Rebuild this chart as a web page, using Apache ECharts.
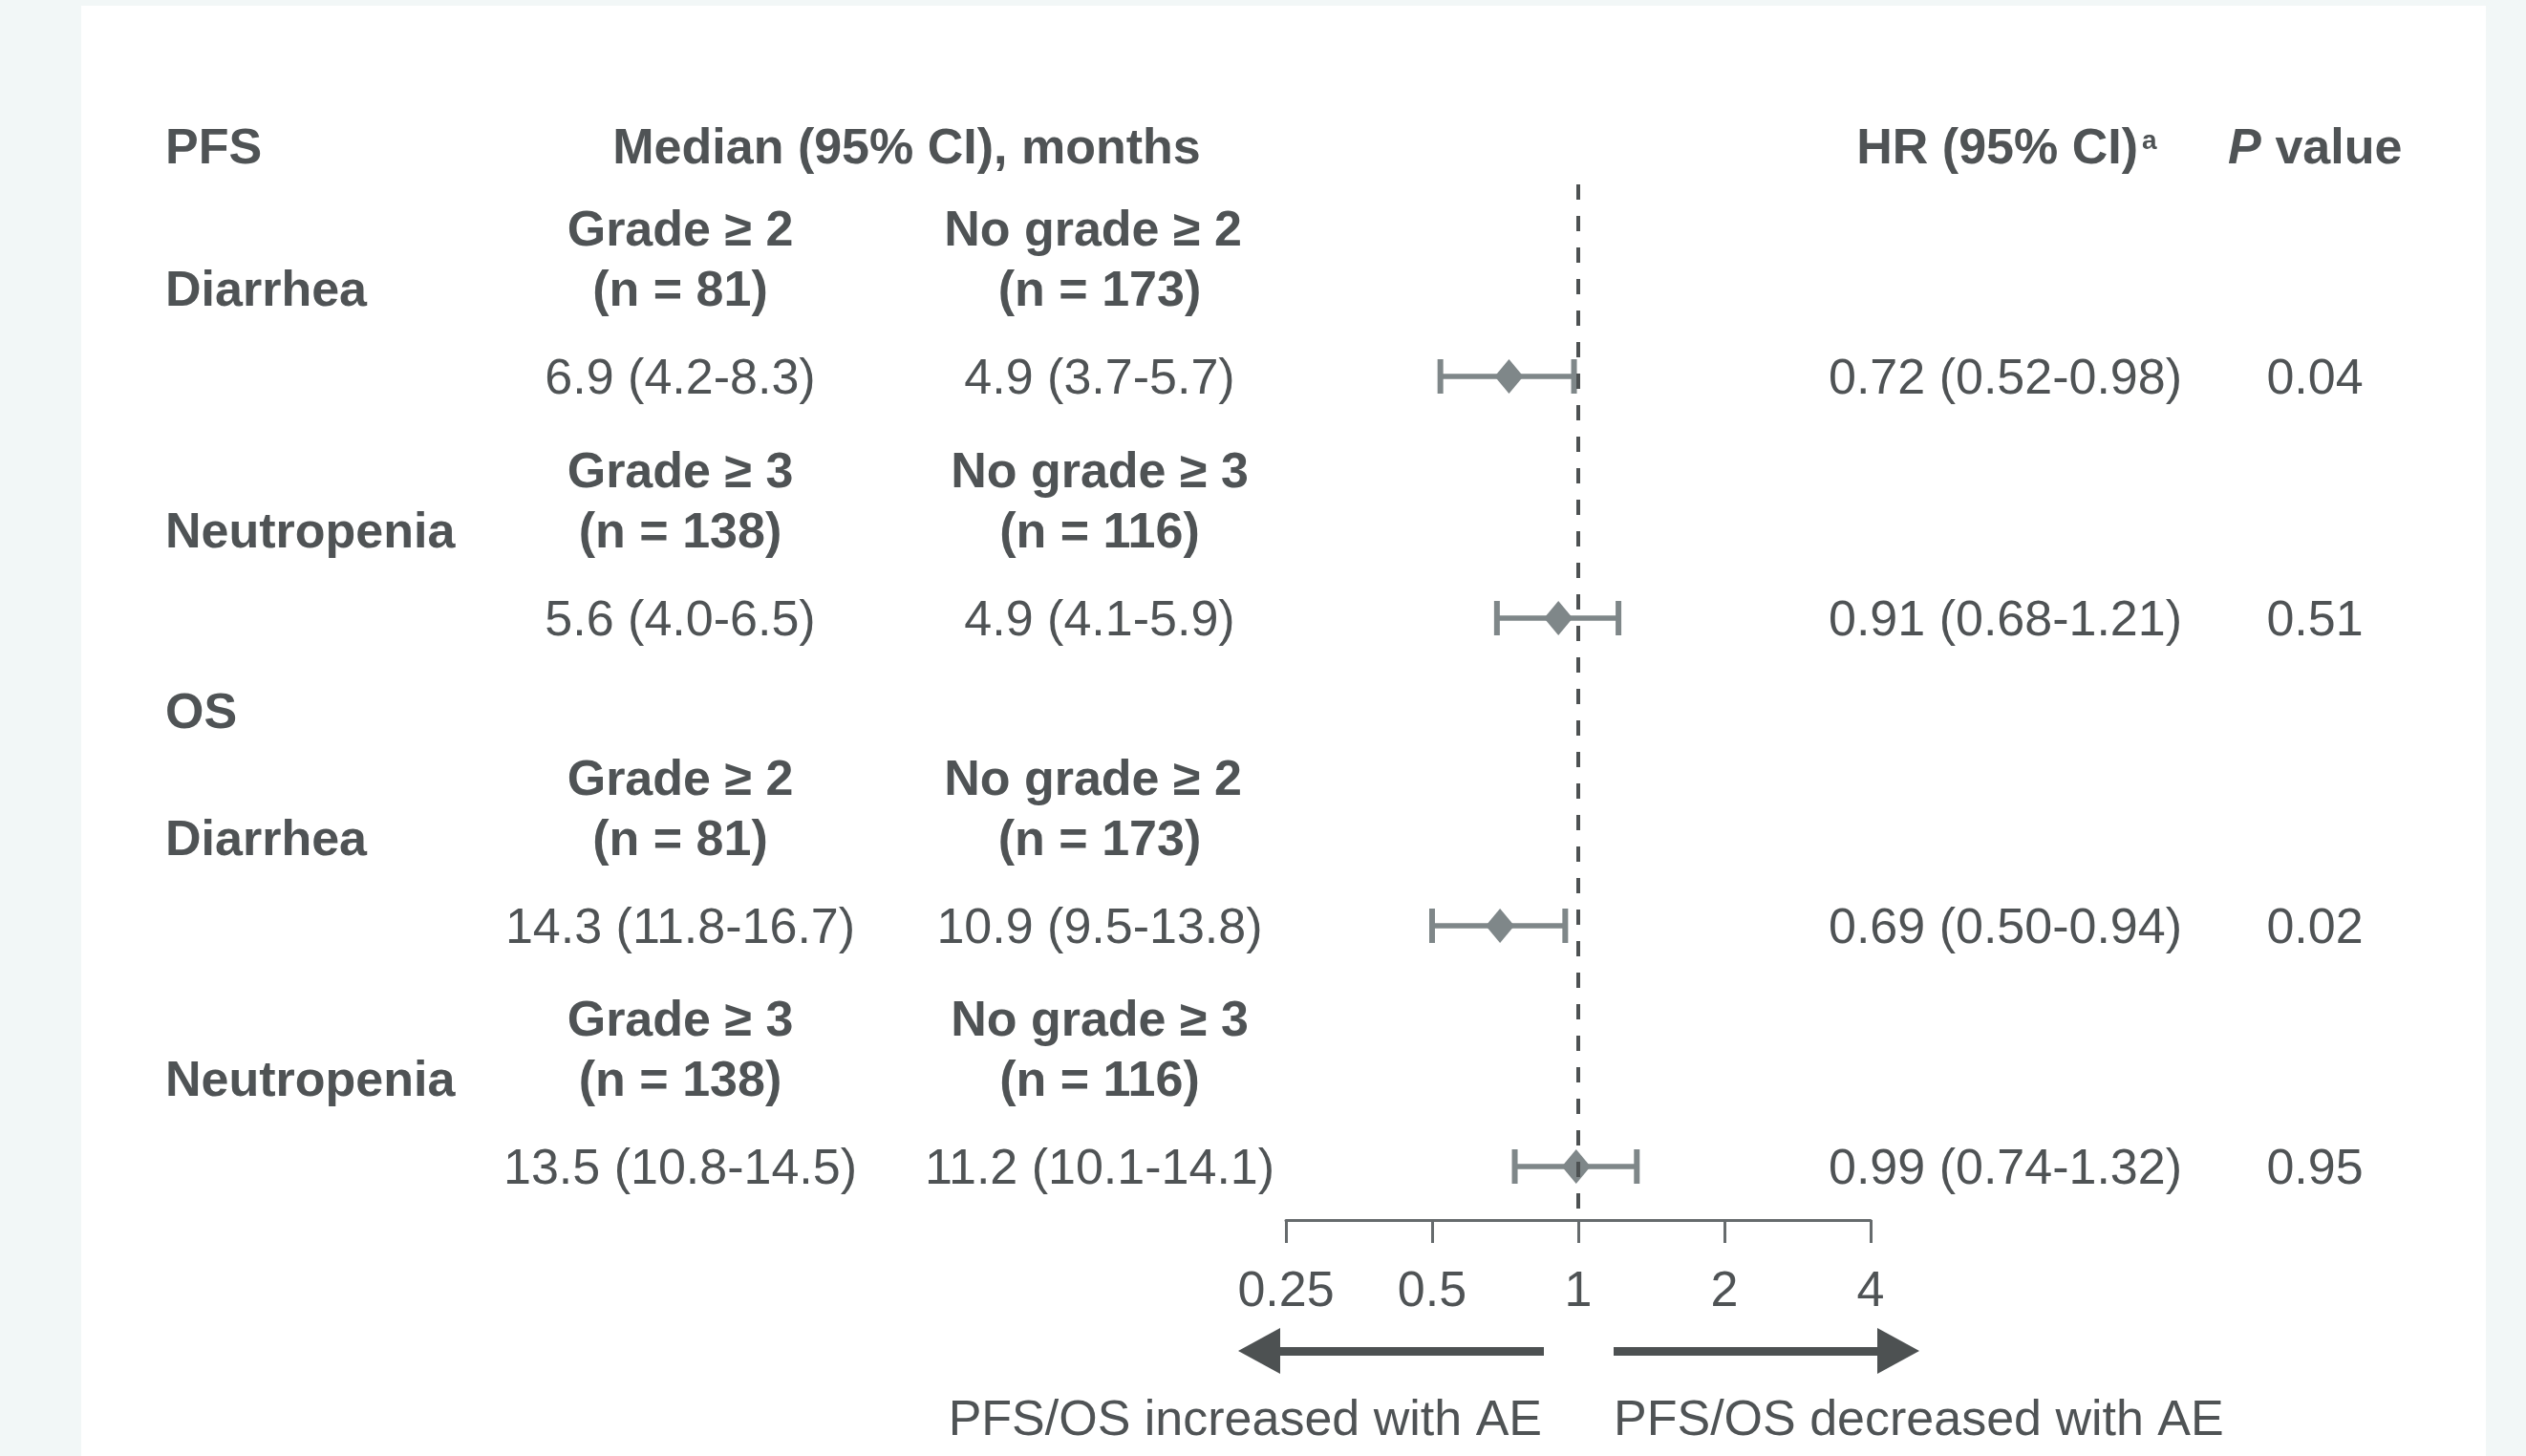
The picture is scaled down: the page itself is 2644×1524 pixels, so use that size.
<!DOCTYPE html>
<html>
<head>
<meta charset="utf-8">
<script src="https://cdn.jsdelivr.net/npm/echarts@6/dist/echarts.min.js"></script>
<style>
  html, body { margin: 0; padding: 0; background: #f2f7f7; }
  #chart { width: 2644px; height: 1524px; }
</style>
</head>
<body>
<div id="chart"></div>
<script>
// ---------------- DATA ----------------
const sections = ['PFS', 'OS'];
const aeNames = ['Diarrhea', 'Neutropenia', 'Diarrhea', 'Neutropenia'];
const gradeLabels = ['Grade ≥ 2', 'Grade ≥ 3', 'Grade ≥ 2', 'Grade ≥ 3'];
const noGradeLabels = ['No grade ≥ 2', 'No grade ≥ 3', 'No grade ≥ 2', 'No grade ≥ 3'];
const gradeN = [81, 138, 81, 138];
const noGradeN = [173, 116, 173, 116];
const gradeMedian = [6.9, 5.6, 14.3, 13.5];
const gradeLow = [4.2, 4.0, 11.8, 10.8];
const gradeHigh = [8.3, 6.5, 16.7, 14.5];
const noGradeMedian = [4.9, 4.9, 10.9, 11.2];
const noGradeLow = [3.7, 4.1, 9.5, 10.1];
const noGradeHigh = [5.7, 5.9, 13.8, 14.1];
const hr = [0.72, 0.91, 0.69, 0.99];
const hrLow = [0.52, 0.68, 0.50, 0.74];
const hrHigh = [0.98, 1.21, 0.94, 1.32];
const pValues = ['0.04', '0.51', '0.02', '0.95'];
const xTicks = [0.25, 0.5, 1, 2, 4];
const arrowLabels = ['PFS/OS increased with AE', 'PFS/OS decreased with AE'];

// ---------------- LAYOUT (page pixels) ----------------
const ROW_Y = [394, 647, 969, 1221];      // value line of each row
const SECTION_Y = [153, 744];
const DY = 4;                              // text baseline correction
const COL = { label: 173, grade: 712, noGrade: 1151, hr: 2099, p: 2423, median: 949 };
const TXT = '#4f5355';
const MARK = '#7f8789';
const FONT = '"Liberation Sans", Arial, sans-serif';
const fB = 'bold 52px ' + FONT;
const fR = '52px ' + FONT;

function t(text, x, y, font, align) {
  return {
    type: 'text', x: x, y: y + DY, silent: true,
    style: { text: text, font: font, fill: TXT, align: align, verticalAlign: 'middle',
             textAlign: align, textVerticalAlign: 'middle' }
  };
}
const f1 = v => v.toFixed(1);
const f2 = v => v.toFixed(2);

const graphics = [];
graphics.push({ type: 'rect', z: -10, silent: true, shape: { x: 85, y: 6, width: 2517, height: 1530 }, style: { fill: '#ffffff' } });
// headers
graphics.push(t(sections[0], COL.label, SECTION_Y[0], fB, 'left'));
graphics.push(t('Median (95% CI), months', COL.median, SECTION_Y[0], fB, 'center'));
graphics.push(t('HR (95% CI)', 2238, SECTION_Y[0], fB, 'right'));
graphics.push(t('a', 2242, 144, 'bold 28px ' + FONT, 'left'));
graphics.push(t('P', 2332, SECTION_Y[0], 'italic bold 52px ' + FONT, 'left'));
graphics.push(t(' value', 2367, SECTION_Y[0], fB, 'left'));
graphics.push(t(sections[1], COL.label, SECTION_Y[1], fB, 'left'));

for (let i = 0; i < ROW_Y.length; i++) {
  const y = ROW_Y[i];
  const noGradeX = noGradeLabels[i].endsWith('2') ? COL.noGrade - 7 : COL.noGrade;
  graphics.push(t(aeNames[i], COL.label, y - 92, fB, 'left'));
  graphics.push(t(gradeLabels[i], COL.grade, y - 155, fB, 'center'));
  graphics.push(t('(n = ' + gradeN[i] + ')', COL.grade, y - 92, fB, 'center'));
  graphics.push(t(f1(gradeMedian[i]) + ' (' + f1(gradeLow[i]) + '-' + f1(gradeHigh[i]) + ')', COL.grade, y, fR, 'center'));
  graphics.push(t(noGradeLabels[i], noGradeX, y - 155, fB, 'center'));
  graphics.push(t('(n = ' + noGradeN[i] + ')', COL.noGrade, y - 92, fB, 'center'));
  graphics.push(t(f1(noGradeMedian[i]) + ' (' + f1(noGradeLow[i]) + '-' + f1(noGradeHigh[i]) + ')', COL.noGrade, y, fR, 'center'));
  graphics.push(t(f2(hr[i]) + ' (' + f2(hrLow[i]) + '-' + f2(hrHigh[i]) + ')', COL.hr, y, fR, 'center'));
  graphics.push(t(pValues[i], COL.p, y, fR, 'center'));
}

// direction arrows
const AR = '#4d5152';
graphics.push({ type: 'rect', silent: true, shape: { x: 1338, y: 1410, width: 278, height: 9 }, style: { fill: AR } });
graphics.push({ type: 'polygon', silent: true, shape: { points: [[1296, 1414], [1340, 1390], [1340, 1438]] }, style: { fill: AR } });
graphics.push({ type: 'rect', silent: true, shape: { x: 1689, y: 1410, width: 279, height: 9 }, style: { fill: AR } });
graphics.push({ type: 'polygon', silent: true, shape: { points: [[2009, 1414], [1965, 1390], [1965, 1438]] }, style: { fill: AR } });
graphics.push(t(arrowLabels[0], 1614, 1484, fR, 'right'));
graphics.push(t(arrowLabels[1], 1689, 1484, fR, 'left'));

const ciData = hr.map((v, i) => [hrLow[i], hrHigh[i], ROW_Y[i]]);
const pointData = hr.map((v, i) => [v, ROW_Y[i]]);

const chart = echarts.init(document.getElementById('chart'), null, { renderer: 'canvas' });
chart.setOption({
  backgroundColor: '#f2f7f7',
  animation: false,
  graphic: { elements: graphics },
  grid: { left: 1346, right: 2644 - 1958, top: 193, bottom: 1524 - 1277, containLabel: false },
  xAxis: {
    type: 'log', logBase: 2, min: xTicks[0], max: xTicks[xTicks.length - 1],
    interval: 1,
    axisLine: { show: true, onZero: false, lineStyle: { color: '#666b6d', width: 3 } },
    axisTick: { show: true, length: 24, inside: false, lineStyle: { color: '#666b6d', width: 3 } },
    axisLabel: { show: true, margin: 50, color: TXT, fontSize: 52, fontFamily: FONT,
      formatter: v => String(+v.toFixed(2)) },
    splitLine: { show: false }, minorTick: { show: false }
  },
  yAxis: {
    type: 'value', min: 193, max: 1277, inverse: true, show: false,
    axisLine: { show: false }, splitLine: { show: false }
  },
  series: [
    {
      type: 'custom', z: 3, silent: true,
      data: ciData,
      encode: { x: [0, 1], y: 2 },
      renderItem: function (params, api) {
        const y = api.value(2);
        const a = api.coord([api.value(0), y]);
        const b = api.coord([api.value(1), y]);
        const h = 18;
        return {
          type: 'group', children: [
            { type: 'line', shape: { x1: a[0], y1: a[1], x2: b[0], y2: b[1] }, style: { stroke: MARK, lineWidth: 5.5 } },
            { type: 'line', shape: { x1: a[0], y1: a[1] - h, x2: a[0], y2: a[1] + h }, style: { stroke: MARK, lineWidth: 6 } },
            { type: 'line', shape: { x1: b[0], y1: b[1] - h, x2: b[0], y2: b[1] + h }, style: { stroke: MARK, lineWidth: 6 } }
          ]
        };
      }
    },
    {
      type: 'scatter', z: 4, silent: true,
      symbol: 'diamond', symbolSize: [30, 36],
      itemStyle: { color: MARK, opacity: 1 },
      data: pointData
    },
    {
      type: 'scatter', z: 5, silent: true, data: [],
      markLine: {
        silent: true, symbol: 'none', animation: false,
        label: { show: false },
        lineStyle: { color: '#4d5152', width: 4, type: [16, 17] },
        emphasis: { disabled: true },
        data: [{ xAxis: 1 }]
      }
    }
  ]
});
</script>
</body>
</html>
